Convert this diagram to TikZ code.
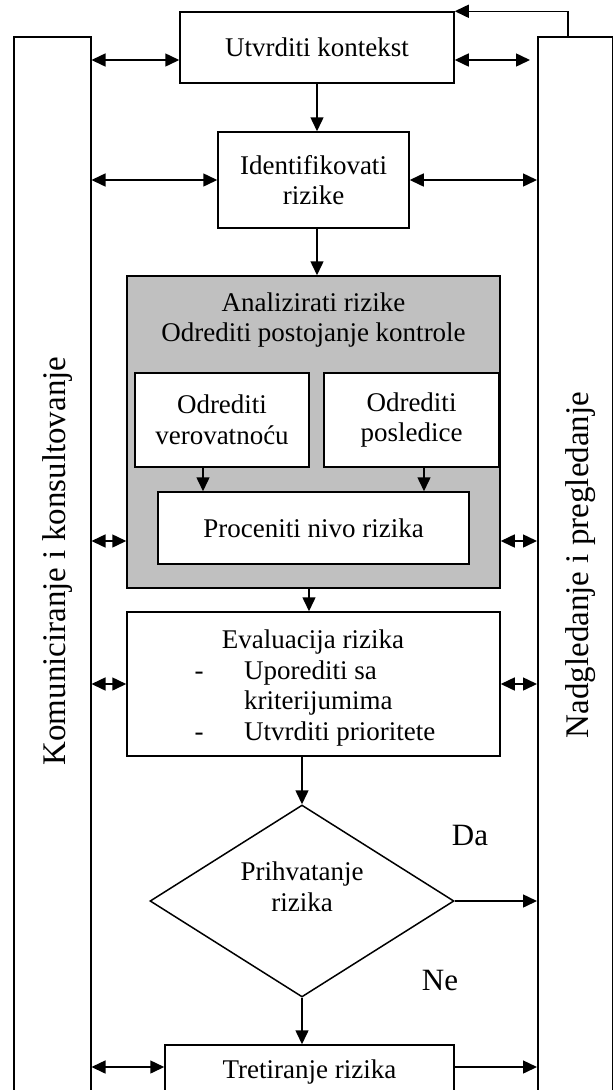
\documentclass[tikz,border=0pt]{standalone}
\usepackage{fontspec}
\setmainfont{Liberation Serif}
\usetikzlibrary{arrows.meta,shapes.geometric,calc}
\definecolor{boxgray}{RGB}{192,192,192}
\begin{document}
\begin{tikzpicture}[x=1pt,y=-1pt,
  lw/.style={line width=1.5pt},
  box/.style={draw, lw, fill=white, inner sep=0pt, align=center, font=\fontsize{27}{30.5}\selectfont},
  colbox/.style={draw, lw, inner sep=0pt, anchor=north west},
  txt/.style={inner sep=0pt, font=\fontsize{27}{30.5}\selectfont},
  big/.style={inner sep=0pt, font=\fontsize{31}{34}\selectfont},
  side/.style={inner sep=0pt, rotate=90, anchor=base, font=\fontsize{33}{36}\selectfont},
  conn/.style={lw, -{Triangle[length=14pt,width=13pt]}},
  dconn/.style={lw, {Triangle[length=14pt,width=13pt]}-{Triangle[length=14pt,width=13pt]}},
]
\useasboundingbox (0,0) rectangle (613,1090);
\clip (0,0) rectangle (613,1090);

% side columns
\node[colbox, minimum width=77pt, minimum height=1080pt] (colL) at (13,36) {};
\node[colbox, minimum width=75pt, minimum height=1080pt] (colR) at (537,36) {};
\node[side] (colLT) at (65,561) {Komuniciranje i konsultovanje};
\node[side] (colRT) at (588,565) {Nadgledanje i pregledanje};

% boxes
\node[box, minimum width=274pt, minimum height=71pt] (ctx) at (317,47.5) {Utvrditi kontekst};
\node[box, minimum width=191pt, minimum height=96pt] (idf) at (313.5,180) {Identifikovati\\rizike};
\node[box, fill=boxgray, minimum width=373pt, minimum height=312pt] (ana) at (313.5,432) {};
\node[txt, align=center] (anaT) at (313.5,320) {Analizirati rizike\\Odrediti postojanje kontrole};
\node[box, minimum width=174pt, minimum height=94pt] (ver) at (222,420) {Odrediti\\verovatnoću};
\node[box, minimum width=175pt, minimum height=94pt] (pos) at (411.5,420) {Odrediti\\posledice};
\node[box, minimum width=311pt, minimum height=72pt] (proc) at (313.5,528) {Proceniti nivo rizika};

\node[box, minimum width=373pt, minimum height=144pt] (eval) at (313.5,684) {};
\node[txt, anchor=base] (ev1) at (313,648) {Evaluacija rizika};
\node[txt, anchor=base] (ev2d) at (199,679) {-};
\node[txt, anchor=base west] (ev2) at (244,679) {Uporediti sa};
\node[txt, anchor=base west] (ev3) at (244,709.5) {kriterijumima};
\node[txt, anchor=base] (ev4d) at (199,740) {-};
\node[txt, anchor=base west] (ev4) at (244,740) {Utvrditi prioritete};

\node[draw, lw, diamond, minimum width=304pt, minimum height=192pt, inner sep=0pt] (dec) at (302,901) {};
\node[txt, align=center] (decT) at (302,887) {Prihvatanje\\rizika};
\node[big] (da) at (470,835) {Da};
\node[big] (ne) at (440,980) {Ne};

\node[box, minimum width=289pt, minimum height=54pt] (treat) at (309.5,1072) {Tretiranje rizika};

\coordinate (ctxR) at (530,60);

% connectors
\draw[dconn] (colL.east |- 0,60) -- (ctx.west |- 0,60);
\draw[dconn] (ctx.east |- 0,60) -- (ctxR);
\draw[conn] (colR.north -| 568,0) |- (ctx.north east);
\draw[conn] (ctx.south) -- (ctx.south |- idf.north);
\draw[dconn] (colL.east |- idf.west) -- (idf.west);
\draw[dconn] (idf.east) -- (colR.west |- idf.east);
\draw[conn] (ctx.south |- idf.south) -- (ctx.south |- ana.north);
\draw[conn] (ver.south -| 203,0) -- (proc.north -| 203,0);
\draw[conn] (pos.south -| 424,0) -- (proc.north -| 424,0);
\draw[dconn] (colL.east |- 0,541) -- (ana.west |- 0,541);
\draw[dconn] (ana.east |- 0,541) -- (colR.west |- 0,541);
\draw[conn] (ana.south -| 309,0) -- (eval.north -| 309,0);
\draw[dconn] (colL.east |- eval.west) -- (eval.west);
\draw[dconn] (eval.east) -- (colR.west |- eval.east);
\draw[conn] (dec.north |- eval.south) -- (dec.north);
\draw[conn] (dec.east) -- (colR.west |- dec.east);
\draw[conn] (dec.south) -- (dec.south |- treat.north);
\draw[dconn] (colL.east |- 0,1067) -- (treat.west |- 0,1067);
\draw[conn] (treat.east |- 0,1067) -- (colR.west |- 0,1067);
\end{tikzpicture}
\end{document}
